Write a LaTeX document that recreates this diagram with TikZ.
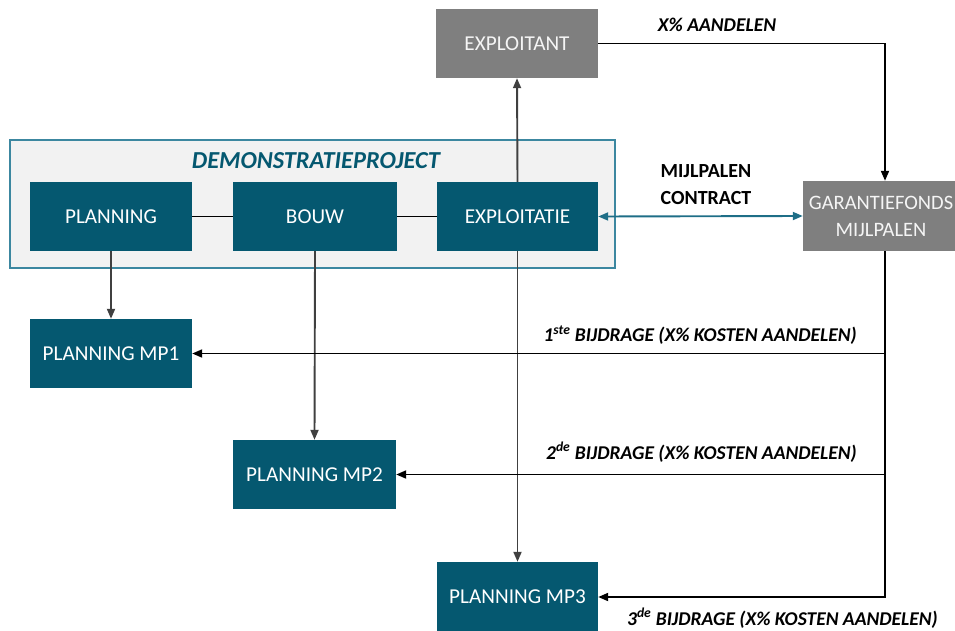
\documentclass[tikz,border=0pt]{standalone}
\usepackage{fontspec}
\setmainfont{Carlito}
\usetikzlibrary{arrows.meta}
\definecolor{teal1}{RGB}{5,88,112}
\definecolor{teal2}{RGB}{60,135,160}
\definecolor{tealarrow}{RGB}{30,110,135}
\definecolor{graybox}{RGB}{127,127,127}
\definecolor{lightbg}{RGB}{242,242,242}
\definecolor{linegray}{RGB}{64,64,64}
\begin{document}
\begin{tikzpicture}[x=1pt,y=-1pt,
  tbox/.style={fill=teal1,text=white,inner sep=0pt,minimum width=162pt,minimum height=69pt,font=\fontsize{21.2}{25}\selectfont},
  gbox/.style={fill=graybox,text=white!92!gray,inner sep=0pt,minimum width=162pt,minimum height=69pt,font=\fontsize{21.2}{25}\selectfont,align=center},
  arr/.style={-{Triangle[length=10pt,width=8pt]},line width=1.9pt},
  lab/.style={font=\fontsize{19.5}{23}\selectfont\bfseries\itshape,inner sep=0pt},
  plainline/.style={line width=1.9pt}]
\useasboundingbox (0,0) rectangle (955,631);
\begin{scope}
\clip (0,0) rectangle (955,631);
% demo box
\node[draw=teal2,fill=lightbg,line width=1.5pt,minimum width=605pt,minimum height=128pt,inner sep=0pt] (demo) at (312.5,204) {};
\node[text=teal1,font=\fontsize{24.4}{28}\selectfont\bfseries\itshape,inner sep=0pt] (demotitle) at (316,161) {DEMONSTRATIEPROJECT};
% nodes
\node[gbox] (exploitant) at (517,43.5) {EXPLOITANT};
\node[tbox] (planning) at (111,216.5) {PLANNING};
\node[tbox,minimum width=164pt] (bouw) at (315,216.5) {BOUW};
\node[tbox,minimum width=161pt] (exploitatie) at (517.5,216.5) {EXPLOITATIE};
\node[gbox,minimum width=164pt,minimum height=70pt] (garant) at (885,216) {};
\node[text=white!92!gray,font=\fontsize{20.5}{24}\selectfont,align=center,inner sep=0pt] (garanttext) at (881,216) {GARANTIEFONDS\\[3pt]MIJLPALEN};
\node[tbox] (mp1) at (111,353.5) {PLANNING MP1};
\node[tbox,minimum width=163pt] (mp2) at (314.5,474.5) {PLANNING MP2};
\node[tbox,minimum width=161pt,minimum height=70pt] (mp3) at (517.5,597) {PLANNING MP3};
% connectors
\draw[plainline,black] (planning.east) -- (bouw.west);
\draw[plainline,black] (bouw.east) -- (exploitatie.west);
\draw[arr,linegray] (planning.south) -- (mp1.north);
\draw[arr,linegray] (bouw.south) -- (mp2.north);
\draw[arr,linegray] (exploitatie.north) -- (exploitant.south);
\draw[arr,linegray] (exploitatie.south) -- (mp3.north);
\draw[arr,black] (exploitant.east) -| (garant.north);
\draw[{Triangle[length=10pt,width=8pt]}-{Triangle[length=10pt,width=8pt]},line width=1.9pt,tealarrow] (exploitatie.east) -- (garant.west);
\draw[arr,black] (garant.south) |- (mp3.east);
\draw[arr,black] (garant.south) |- (mp1.east);
\draw[arr,black] (garant.south) |- (mp2.east);
% labels
\node[lab] (l0) at (717,25) {X\% AANDELEN};
\node[font=\fontsize{20}{24}\selectfont\bfseries,inner sep=0pt,align=center] (lc) at (706,185) {MIJLPALEN\\[3pt]CONTRACT};
\node[lab,anchor=east] (l1) at (857,335) {1\textsuperscript{ste} BIJDRAGE (X\% KOSTEN AANDELEN)};
\node[lab,anchor=east] (l2) at (857,452) {2\textsuperscript{de} BIJDRAGE (X\% KOSTEN AANDELEN)};
\node[lab,anchor=east] (l3) at (938,618) {3\textsuperscript{de} BIJDRAGE (X\% KOSTEN AANDELEN)};
\end{scope}
\end{tikzpicture}
\end{document}
